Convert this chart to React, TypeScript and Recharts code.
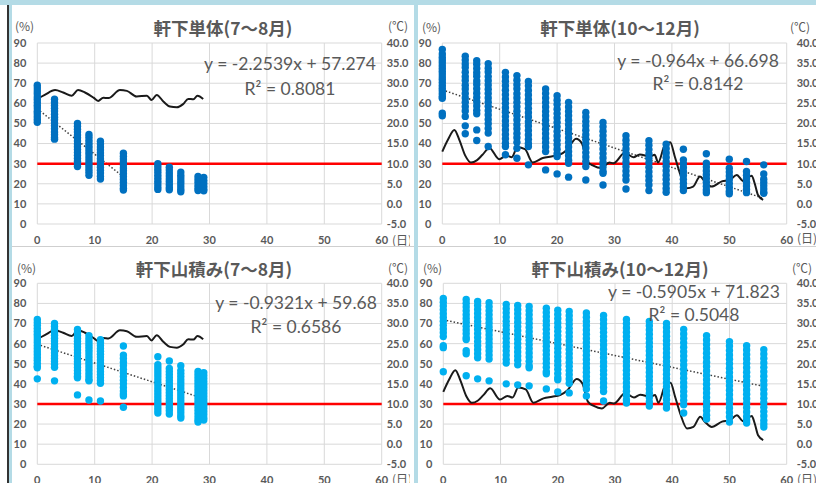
import React from 'react';
import { ComposedChart, Scatter, Line, XAxis, YAxis, CartesianGrid, ReferenceLine } from 'recharts';

// ---------- tick labels ----------
const xTicks = [0, 10, 20, 30, 40, 50, 60];
const yTicks = [0, 10, 20, 30, 40, 50, 60, 70, 80, 90];
const tTicks = [-5, 0, 5, 10, 15, 20, 25, 30, 35, 40];

// ---------- titles / equations ----------
const titles = ['軒下単体(7～8月)', '軒下単体(10～12月)', '軒下山積み(7～8月)', '軒下山積み(10～12月)'];
const equations = ['y = -2.2539x + 57.274', 'y = -0.964x + 66.698', 'y = -0.9321x + 59.68', 'y = -0.5905x + 71.823'];
const r2Labels = ['R² = 0.8081', 'R² = 0.8142', 'R² = 0.6586', 'R² = 0.5048'];

// ---------- temperature (℃) ----------
const summerTempDays = [0, 1.3, 3.1, 4.5, 6, 7.1, 8.3, 9.8, 10.6, 11.5, 12.4, 14.4, 15.6, 17.3, 19.1, 19.9, 20.8, 22, 23.1, 24.3, 25.4, 26.3, 27.2, 27.9, 28.9];
const summerTemps = [26.1, 27.1, 28.3, 27.7, 26.9, 28.3, 27.7, 26.4, 25.6, 26.4, 26.3, 28.3, 28.1, 26.7, 26.9, 25.8, 27.1, 25.4, 24.2, 24, 24.8, 26.1, 26, 26.9, 26.1];
const autumnTempDays = [0, 1, 2.1, 3, 4, 5, 6, 7, 8.2, 9.9, 11.2, 12.1, 13.1, 14.4, 15.75, 17.5, 19, 20.4, 21.7, 23.3, 24.3, 25.3, 26.3, 27.7, 29.1, 29.8, 31.8, 33.3, 34.4, 36.2, 37, 37.6, 38.8, 39.7, 40.5, 41.4, 42.6, 43.7, 44.9, 45.7, 46.9, 48.7, 50.1, 51.3, 52.4, 53.9, 54.4, 55, 55.9];
const autumnTemps = [13.0, 16.0, 18.4, 15.8, 12.0, 10.3, 10.8, 12.2, 13.9, 11.1, 12.0, 11.6, 14.1, 13.6, 10.3, 11.4, 11.8, 12.2, 13.4, 16.2, 15.1, 10.5, 9.5, 8.9, 10.3, 10.1, 12.7, 11.6, 12.3, 11.8, 12.2, 10.3, 14.7, 15.3, 11.8, 7.6, 3.9, 4.3, 6.8, 5.6, 4.3, 5.6, 6.0, 7.2, 5.7, 7.0, 5.2, 2.2, 1.0];

// ---------- trend lines (end points) ----------
const trendSingleSummer = [{ x: 0, y: 57.27 }, { x: 15, y: 23.47 }];
const trendSingleAutumn = [{ x: 0, y: 66.7 }, { x: 56, y: 12.72 }];
const trendPileSummer = [{ x: 0, y: 59.68 }, { x: 29, y: 32.65 }];
const trendPileAutumn = [{ x: 0, y: 71.82 }, { x: 56, y: 38.75 }];

// ---------- moisture (%) : 軒下単体 7～8月 ----------
const ssDays = [0, 3, 7, 9, 11, 15, 21, 23, 25, 28, 29];
const ssVals = [
  [69, 67.6, 66.1, 64.8, 63.2, 61.9, 60.4, 59, 57.7, 56.1, 54.8, 53.3, 52, 50.6],
  [62, 60.4, 58.9, 57.5, 56.2, 54.6, 53.1, 51.8, 50.2, 48.9, 47.3, 45.8, 44.4, 43, 42.2],
  [50, 48.6, 47.1, 45.7, 44.2, 42.9, 41.3, 39.8, 38.4, 37, 35.5, 34.1, 32.6, 31.2, 29.8, 28.6],
  [44.5, 43.1, 41.6, 40.2, 38.7, 37.3, 35.8, 34.4, 32.9, 31.5, 30, 28.6, 27.1, 25.7, 24.2],
  [41.2, 39.8, 38.3, 36.9, 35.4, 34, 32.5, 31.1, 29.6, 28.2, 26.7, 25.3, 23.8, 22.4],
  [35.2, 33.7, 32.3, 30.8, 29.4, 27.9, 26.5, 25, 23.6, 22.1, 20.7, 19.2, 17.8, 16.9],
  [30, 28.6, 27.1, 25.7, 24.2, 22.8, 21.3, 19.9, 18.4, 17.2],
  [28.2, 26.8, 25.3, 23.9, 22.4, 21, 19.5, 18.1, 17],
  [25.8, 24.3, 22.9, 21.4, 20, 18.5, 17.1, 16],
  [23.6, 22.1, 20.7, 19.2, 17.8, 16.6],
  [23.2, 21.7, 20.3, 18.8, 17.4, 16.5],
];

// ---------- moisture (%) : 軒下単体 10～12月 ----------
const saDays = [0, 4, 6, 8, 11, 13, 15, 18, 20, 22, 25, 28, 32, 36, 39, 42, 46, 50, 53, 56];
const saVals = [
  [86.8, 84.5, 82.9, 81.6, 80.2, 78.7, 77.3, 76, 74.6, 73.1, 71.8, 70.4, 68.9, 67.5, 66.2, 64.8, 63.4, 62.5, 55.1, 53.8],
  [83.4, 81.5, 79.6, 77.8, 75.5, 73.2, 71.4, 69, 67.1, 64.9, 62.7, 60.6, 58.3, 56.2, 53.5, 48.8, 44.9],
  [81.2, 79.4, 77.3, 75.2, 73.5, 71.1, 69.4, 67.2, 65, 62.9, 60.8, 58.7, 56.5, 54.8, 46.8, 41.5],
  [79.7, 77.5, 75.6, 73.3, 71.2, 69.1, 67, 64.9, 62.7, 60.6, 58.5, 56.3, 54.2, 52, 49.9, 47.5, 45.2, 38.5],
  [75.4, 73.1, 71, 68.8, 66.5, 64.3, 62.1, 60, 57.8, 55.6, 53.4, 51.2, 49, 46.8, 44.5, 42.4, 40.2, 38.5, 34.4],
  [73.8, 71.5, 69.3, 67.2, 64.8, 62.7, 60.5, 58.3, 56.1, 53.9, 51.7, 49.4, 47.3, 45, 42.9, 40.6, 37.7, 32.7],
  [70.9, 68.7, 66.4, 64.2, 61.9, 59.8, 57.5, 55.3, 53.2, 50.9, 48.7, 46.5, 44.3, 42.1, 40, 38.5, 29.4],
  [67.1, 64.9, 62.6, 60.4, 58.2, 56, 53.8, 51.6, 49.4, 47.1, 44.9, 42.7, 40.5, 38.3, 36, 26.9],
  [63.8, 61.5, 59.4, 57.1, 54.9, 52.7, 50.5, 48.3, 46, 43.8, 41.6, 39.4, 37.2, 35, 33.6, 24.9],
  [60.5, 58.2, 56, 53.8, 51.6, 49.4, 47.2, 45, 42.8, 40.5, 38.3, 36.1, 33.9, 31.7, 30.2, 23.3],
  [55.5, 53.2, 51, 48.8, 46.6, 44.4, 42.2, 40, 37.8, 35.5, 33.3, 31.1, 28.6, 21.9],
  [50.5, 48.3, 46.1, 43.9, 41.7, 39.5, 37.3, 35, 32.8, 30.6, 28.4, 26.2, 25.2, 19.4],
  [43.9, 41.7, 39.5, 37.3, 35.1, 32.9, 30.7, 28.5, 26.3, 24.1, 21.9, 17.4],
  [41.4, 39.2, 37, 34.8, 32.6, 30.4, 28.2, 26, 23.8, 21.6, 19.4, 16.6],
  [39.7, 37.5, 35.3, 33.1, 30.9, 28.7, 26.5, 24.3, 22.1, 19.9, 17.7, 15.8],
  [37.2, 31.9, 30, 28, 26, 24.1, 22.2, 20.3, 18.4, 16.6],
  [34.9, 30.2, 28.3, 26.4, 24.5, 22.6, 20.7, 18.8, 16.9, 15.6],
  [32.2, 27.7, 25.8, 23.9, 22, 20.1, 18.2, 16.3, 15],
  [31.1, 26.1, 24.3, 22.5, 20.7, 18.9, 17.1, 15.6],
  [29.4, 24.9, 22.3, 20.6, 19, 17.4, 15.8, 15.3],
];

// ---------- moisture (%) : 軒下山積み 7～8月 ----------
const psDays = [0, 3, 7, 9, 11, 15, 21, 23, 25, 28, 29];
const psVals = [
  [72, 70.5, 69.1, 67.6, 66.2, 64.7, 63.3, 61.8, 60.4, 58.9, 57.5, 56, 54.6, 53.1, 51.7, 50.2, 48.8, 48, 42.5],
  [70, 68.5, 67.1, 65.6, 64.2, 62.7, 61.3, 59.8, 58.4, 56.9, 55.5, 54, 52.6, 51.1, 49.7, 48.2, 41.5],
  [67, 65.5, 64.1, 62.6, 61.2, 59.7, 58.3, 56.8, 55.4, 53.9, 52.5, 51, 49.6, 48.1, 46.7, 45.2, 43.8, 43, 34.5],
  [64, 62.5, 61.1, 59.6, 58.2, 56.7, 55.3, 53.8, 52.4, 50.9, 49.5, 48, 46.6, 45.1, 43.7, 42.2, 41.5, 32],
  [62, 60.5, 59.1, 57.6, 56.2, 54.7, 53.3, 51.8, 50.4, 48.9, 47.5, 46, 44.6, 43.1, 41.7, 40.3, 31.5],
  [58.8, 54.3, 52.6, 50.8, 49, 47.2, 45.4, 43.6, 41.8, 40, 38.2, 36.4, 35, 34, 28.4],
  [53.5, 49.5, 48, 46.5, 45, 43.5, 42, 40.5, 39, 37.5, 36, 34.5, 33, 31.5, 30, 28.5, 27, 25.5],
  [51.4, 47.6, 46.1, 44.6, 43.1, 41.6, 40.1, 38.6, 37.1, 35.6, 34.1, 32.6, 31.1, 29.6, 28.1, 26.6, 25],
  [49, 46.6, 45.1, 43.6, 42.1, 40.6, 39.1, 37.6, 36.1, 34.6, 33.1, 31.6, 30.1, 28.6, 27.1, 25.6, 24.1, 23],
  [46.2, 44.7, 43.2, 41.7, 40.2, 38.7, 37.2, 35.7, 34.2, 32.7, 31.2, 29.7, 28.2, 26.7, 25.2, 23.7, 22.2, 21],
  [45.6, 44.1, 42.6, 41.1, 39.6, 38.1, 36.6, 35.1, 33.6, 32.1, 30.6, 29.1, 27.6, 26.1, 24.6, 23.1, 22],
];

// ---------- moisture (%) : 軒下山積み 10～12月 ----------
const paDays = [0, 4, 6, 8, 11, 13, 15, 18, 20, 22, 25, 28, 32, 36, 39, 42, 46, 50, 53, 56];
const paVals = [
  [82.5, 80.6, 78.7, 76.8, 74.9, 73, 71.1, 69.2, 67.3, 65.4, 63.5, 59, 58, 46],
  [82, 80.1, 78.2, 76.3, 74.4, 72.5, 70.6, 68.7, 66.8, 64.9, 63, 62, 56.5, 55, 44],
  [81, 79, 77, 75, 73, 71, 69, 67, 65, 63, 61, 59, 57, 55, 53, 42.5],
  [80.3, 78.3, 76.3, 74.3, 72.3, 70.3, 68.3, 66.3, 64.3, 62.3, 60.3, 58.3, 56.3, 54.3, 52.3, 41.5],
  [79.5, 77.4, 75.3, 73.2, 71.1, 69, 66.9, 64.8, 62.7, 60.6, 58.5, 56.4, 54.3, 52.2, 50.4, 40],
  [79, 76.9, 74.8, 72.7, 70.6, 68.5, 66.4, 64.3, 62.2, 60.1, 58, 55.9, 53.8, 51.7, 49.5, 39.5],
  [78.5, 76.4, 74.3, 72.2, 70.1, 68, 65.9, 63.8, 61.7, 59.6, 57.5, 55.4, 53.3, 51.2, 49, 48, 39],
  [77.6, 75.5, 73.4, 71.3, 69.2, 67.1, 65, 62.9, 60.8, 58.7, 56.6, 54.5, 52.4, 50.3, 48.2, 46.1, 45, 37.5],
  [76.6, 74.5, 72.4, 70.3, 68.2, 66.1, 64, 61.9, 59.8, 57.7, 55.6, 53.5, 51.4, 49.3, 47.2, 45.1, 43, 42, 36],
  [76, 73.9, 71.8, 69.7, 67.6, 65.5, 63.4, 61.3, 59.2, 57.1, 55, 52.9, 50.8, 48.7, 46.6, 44.5, 42.4, 40.3, 35.5],
  [75.2, 73.1, 71, 68.9, 66.8, 64.7, 62.6, 60.5, 58.4, 56.3, 54.2, 52.1, 50, 47.9, 45.8, 43.7, 41.6, 39.5, 37.4, 34],
  [74, 71.9, 69.8, 67.7, 65.6, 63.5, 61.4, 59.3, 57.2, 55.1, 53, 50.9, 48.8, 46.7, 44.6, 42.5, 40.4, 38.3, 36.2, 31.5],
  [72, 69.9, 67.8, 65.7, 63.6, 61.5, 59.4, 57.3, 55.2, 53.1, 51, 48.9, 46.8, 44.7, 42.6, 40.5, 38.4, 36.3, 34.2, 32, 30.5],
  [71, 68.9, 66.8, 64.7, 62.6, 60.5, 58.4, 56.3, 54.2, 52.1, 50, 47.9, 45.8, 43.7, 41.6, 39.5, 37.4, 35.3, 33.2, 31, 29],
  [70, 67.9, 65.8, 63.7, 61.6, 59.5, 57.4, 55.3, 53.2, 51.1, 49, 46.9, 44.8, 42.7, 40.6, 38.5, 36.4, 34.3, 32.2, 30, 28],
  [67, 64.8, 62.6, 60.4, 58.2, 56, 53.8, 51.6, 49.4, 47.2, 45, 42.8, 40.6, 38.4, 36.2, 34, 31.8, 29.6, 25.5],
  [64, 61.8, 59.6, 57.4, 55.2, 53, 50.8, 48.6, 46.4, 44.2, 42, 39.8, 37.6, 35.4, 33.2, 31, 28.8, 26.6, 24.4, 22.5],
  [61, 58.8, 56.6, 54.4, 52.2, 50, 47.8, 45.6, 43.4, 41.2, 39, 36.8, 34.6, 32.4, 30.2, 28, 25.8, 23.6, 21],
  [59, 56.8, 54.6, 52.4, 50.2, 48, 45.8, 43.6, 41.4, 39.2, 37, 34.8, 32.6, 30.4, 28.2, 26, 23.8, 22, 20.5],
  [57, 54.8, 52.6, 50.4, 48.2, 46, 43.8, 41.6, 39.4, 37.2, 35, 32.8, 30.6, 28.4, 26.2, 24, 21.8, 20, 18.5],
];

type Pt = { x: number; y: number };
const toPoints = (days: number[], vals: number[][]): Pt[] =>
  days.flatMap((d, i) => vals[i].map((v) => ({ x: d, y: v })));
const toLine = (days: number[], vals: number[]): Pt[] => days.map((d, i) => ({ x: d, y: vals[i] }));

const GRAY = '#595959';
const NUM_FONT = 'Lato, "Liberation Sans", sans-serif';
const JP_FONT = '"Noto Sans CJK JP", "Noto Sans", sans-serif';
const DARK_BLUE = '#0070C0';
const LIGHT_BLUE = '#00B0F0';

const tickStyle = { fill: GRAY, fontSize: 11, fontFamily: NUM_FONT, fontWeight: 700 };

const Txt = ({ x, y, size, center, bold, font, spacing, children }: any) => (
  <div
    style={{
      position: 'absolute',
      left: x,
      top: y - size,
      height: size * 2,
      lineHeight: `${size * 2}px`,
      fontSize: size,
      transform: center ? 'translateX(-50%)' : undefined,
      whiteSpace: 'nowrap',
      color: GRAY,
      fontFamily: font || NUM_FONT,
      fontWeight: bold ? 700 : 400,
      letterSpacing: spacing,
    }}
  >
    {children}
  </div>
);

function Panel(p: any) {
  const dot = (props: any) => <circle cx={props.cx} cy={props.cy} r={3.7} fill={p.color} />;
  return (
    <div style={{ position: 'absolute', left: p.left, top: p.top, width: 398, height: p.height, overflow: 'hidden', background: '#fff' }}>
      <ComposedChart width={398} height={p.chartHeight} margin={{ top: p.marginTop, right: 0, bottom: 0, left: 0 }}>
        <CartesianGrid yAxisId="left" stroke="#d9d9d9" strokeWidth={1} />
        <XAxis
          dataKey="x"
          type="number"
          domain={[0, 60]}
          ticks={xTicks}
          interval={0}
          axisLine={false}
          tickLine={false}
          tick={tickStyle}
          height={22}
          tickSize={6}
          tickMargin={6}
        />
        <YAxis
          yAxisId="left"
          dataKey="y"
          type="number"
          domain={[0, 90]}
          ticks={yTicks}
          interval={0}
          axisLine={false}
          tickLine={false}
          tick={tickStyle}
          width={p.leftW}
          tickSize={6}
          tickMargin={5}
        />
        <YAxis
          yAxisId="right"
          orientation="right"
          dataKey="y"
          type="number"
          domain={[-5, 40]}
          ticks={tTicks}
          interval={0}
          axisLine={false}
          tickLine={false}
          tick={tickStyle}
          tickFormatter={(v: number) => v.toFixed(1)}
          width={p.rightW}
          tickSize={p.rightGap}
          tickMargin={0}
        />
        <Scatter yAxisId="left" data={p.points} fill={p.color} shape={dot} isAnimationActive={false} />
        <Line
          yAxisId="left"
          data={p.trend}
          dataKey="y"
          type="linear"
          stroke="#404040"
          strokeWidth={1.5}
          strokeDasharray="1.5 2"
          dot={false}
          activeDot={false}
          isAnimationActive={false}
        />
        <ReferenceLine yAxisId="left" y={30} stroke="#ff0000" strokeWidth={2.5} />
        <Line
          yAxisId="right"
          data={p.temp}
          dataKey="y"
          type="monotone"
          stroke="#1a1a1a"
          strokeWidth={2}
          dot={false}
          activeDot={false}
          isAnimationActive={false}
        />
      </ComposedChart>
      <Txt x={p.titleX} y={p.titleY} size={17.5} center bold font={JP_FONT}>{p.title}</Txt>
      <Txt x={p.pctX} y={p.unitY} size={12} font={JP_FONT}>(%)</Txt>
      <Txt x={p.degX} y={p.unitY} size={12} font={JP_FONT}>(℃)</Txt>
      <Txt x={p.dayX} y={p.dayY} size={12} font={JP_FONT}>(日)</Txt>
      <Txt x={p.eqX} y={p.eqY} size={17.5} center>{p.eq}</Txt>
      <Txt x={p.eqX} y={p.r2Y} size={17.5} center>{p.r2}</Txt>
    </div>
  );
}

export default function App() {
  const summerTemp = toLine(summerTempDays, summerTemps);
  const autumnTemp = toLine(autumnTempDays, autumnTemps);
  return (
    <div style={{ position: 'fixed', left: 0, top: 0, width: 816, height: 483, background: '#fff', overflow: 'hidden' }}>
      <div style={{ position: 'absolute', left: 0, top: 0, width: 816, height: 5, background: '#b4dbe6' }} />
      <div style={{ position: 'absolute', left: 7, top: 5, width: 2, height: 478, background: '#333' }} />
      <div style={{ position: 'absolute', left: 9, top: 5, width: 3, height: 478, background: '#b4dbe6' }} />
      <div style={{ position: 'absolute', left: 414, top: 5, width: 4, height: 478, background: '#b4dbe6' }} />
      <div style={{ position: 'absolute', left: 12, top: 246, width: 402, height: 1, background: '#cfcfcf' }} />
      <div style={{ position: 'absolute', left: 418, top: 246, width: 398, height: 1, background: '#cfcfcf' }} />

      <Panel
        left={12} top={6} height={240} chartHeight={240} marginTop={37} leftW={25.3} rightW={28.3} rightGap={5}
        points={toPoints(ssDays, ssVals)} color={DARK_BLUE} temp={summerTemp} trend={trendSingleSummer}
        title={titles[0]} titleX={211} titleY={21} pctX={3} degX={376} dayX={380} dayY={234} unitY={20}
        eq={equations[0]} r2={r2Labels[0]} eqX={278} eqY={57} r2Y={82}
      />
      <Panel
        left={418} top={6} height={240} chartHeight={240} marginTop={37} leftW={24.3} rightW={29.3} rightGap={10}
        points={toPoints(saDays, saVals)} color={DARK_BLUE} temp={autumnTemp} trend={trendSingleAutumn}
        title={titles[1]} titleX={202} titleY={21} pctX={4} degX={372} dayX={379} dayY={232} unitY={21}
        eq={equations[1]} r2={r2Labels[1]} eqX={280} eqY={54} r2Y={77}
      />
      <Panel
        left={12} top={248} height={235} chartHeight={238.3} marginTop={35.3} leftW={25.3} rightW={28.3} rightGap={5}
        points={toPoints(psDays, psVals)} color={LIGHT_BLUE} temp={summerTemp} trend={trendPileSummer}
        title={titles[2]} titleX={202} titleY={20} pctX={5} degX={376} dayX={380} dayY={231} unitY={20}
        eq={equations[2]} r2={r2Labels[2]} eqX={284} eqY={54} r2Y={78}
      />
      <Panel
        left={418} top={248} height={235} chartHeight={238.3} marginTop={35.3} leftW={25.3} rightW={29.3} rightGap={10}
        points={toPoints(paDays, paVals)} color={LIGHT_BLUE} temp={autumnTemp} trend={trendPileAutumn}
        title={titles[3]} titleX={202} titleY={20} pctX={5} degX={374} dayX={379} dayY={231} unitY={20}
        eq={equations[3]} r2={r2Labels[3]} eqX={276} eqY={43} r2Y={66}
      />
    </div>
  );
}
